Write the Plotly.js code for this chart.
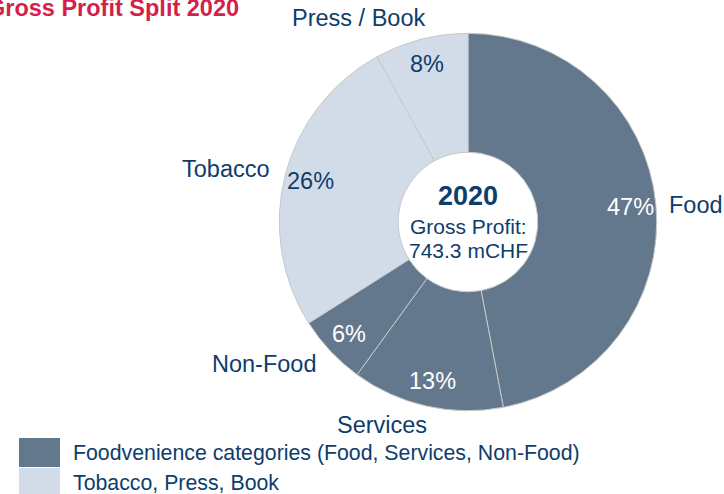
<!DOCTYPE html>
<html>
<head>
<meta charset="utf-8">
<script src="https://cdn.plot.ly/plotly-3.0.1.min.js"></script>
<style>html,body{margin:0;padding:0;background:#fff;}#chart{width:724px;height:494px;}</style>
</head>
<body>
<div id="chart"></div>
<script>
// ---- data ----
const categories = ['Food', 'Services', 'Non-Food', 'Tobacco', 'Press / Book'];
const shares = [47, 13, 6, 26, 8];
const groupOf = [0, 0, 0, 1, 1];
const legendLabels = ['Foodvenience categories (Food, Services, Non-Food)', 'Tobacco, Press, Book'];
const chartTitle = 'Gross Profit Split 2020';
const centerYear = '2020';
const centerLines = ['Gross Profit:', '743.3 mCHF'];

// ---- style ----
const W = 724, H = 494;
const groupColors = ['#63788c', '#d2dce8'];
const pctColors = ['#ffffff', '#0e3d6c'];
const navy = '#0e3d6c';
const FONT = 'Liberation Sans, Arial, Helvetica, sans-serif';
const cxPx = 468, cyPx = 222, rPx = 188.7;
const holeFrac = 0.37;
const pctR = 163;       // radius of percent labels (px)
const labR = 205;       // radius of category labels (px)
// pixel nudges for category labels [dx, dy] (dy positive = down)
const labNudge = [[-5, 2], [6, 3], [0, 2], [3, -2.5], [10, -5]];

const px = x => x / W;
const py = y => 1 - y / H;

const total = shares.reduce((a, b) => a + b, 0);
const annotations = [];
let cum = 0;
shares.forEach((v, i) => {
  const f = (cum + v / 2) / total;
  cum += v;
  const th = 2 * Math.PI * f;
  const s = Math.sin(th), c = Math.cos(th);
  // percent label
  annotations.push({
    xref: 'paper', yref: 'paper',
    x: px(cxPx + pctR * s), y: py(cyPx - pctR * c),
    text: Math.round(v / total * 100) + '%', showarrow: false,
    xanchor: 'center', yanchor: 'middle',
    font: {family: FONT, size: 23.5, color: pctColors[groupOf[i]]}
  });
  // category label
  annotations.push({
    xref: 'paper', yref: 'paper',
    x: px(cxPx + labR * s + labNudge[i][0]), y: py(cyPx - labR * c + labNudge[i][1]),
    text: categories[i], showarrow: false,
    xanchor: s >= 0 ? 'left' : 'right', yanchor: 'middle',
    font: {family: FONT, size: 23.5, color: navy}
  });
});

// center text
annotations.push({xref: 'paper', yref: 'paper', x: px(cxPx), y: py(195.5), text: '<b>' + centerYear + '</b>',
  showarrow: false, xanchor: 'center', yanchor: 'middle', font: {family: FONT, size: 27, color: navy}});
centerLines.forEach((t, k) => {
  annotations.push({xref: 'paper', yref: 'paper', x: px(cxPx), y: py(226.5 + k * 24.5), text: t,
    showarrow: false, xanchor: 'center', yanchor: 'middle', font: {family: FONT, size: 21, color: navy}});
});

// title (partly cut off at the left edge, as in the reference)
annotations.push({xref: 'paper', yref: 'paper', x: px(240.7), y: py(7.5), text: '<b>' + chartTitle + '</b>',
  showarrow: false, xanchor: 'right', yanchor: 'middle', font: {family: FONT, size: 23.5, color: '#d41f4b'}});

// legend
const shapes = [];
legendLabels.forEach((t, k) => {
  const top = 438 + k * 30;
  shapes.push({type: 'rect', xref: 'paper', yref: 'paper', x0: px(19), x1: px(60), y0: py(top), y1: py(top + 29),
    fillcolor: groupColors[k], line: {width: 0}});
  annotations.push({xref: 'paper', yref: 'paper', x: px(71), y: py(top + 14.5), text: t, showarrow: false,
    xanchor: 'left', yanchor: 'middle', font: {family: FONT, size: 21.3, color: navy}});
});

const trace = {
  type: 'pie',
  labels: categories,
  values: shares,
  sort: false,
  direction: 'clockwise',
  rotation: 0,
  hole: holeFrac,
  textinfo: 'none',
  hoverinfo: 'none',
  showlegend: false,
  marker: {colors: groupOf.map(g => groupColors[g]), line: {color: '#c8c8c8', width: 1}},
  domain: {x: [px(cxPx - rPx), px(cxPx + rPx)], y: [py(cyPx + rPx), py(cyPx - rPx)]}
};

Plotly.newPlot('chart', [trace], {
  width: W, height: H,
  margin: {l: 0, r: 0, t: 0, b: 0},
  paper_bgcolor: '#ffffff', plot_bgcolor: '#ffffff',
  showlegend: false,
  annotations: annotations,
  shapes: shapes
}, {staticPlot: true});
</script>
</body>
</html>
